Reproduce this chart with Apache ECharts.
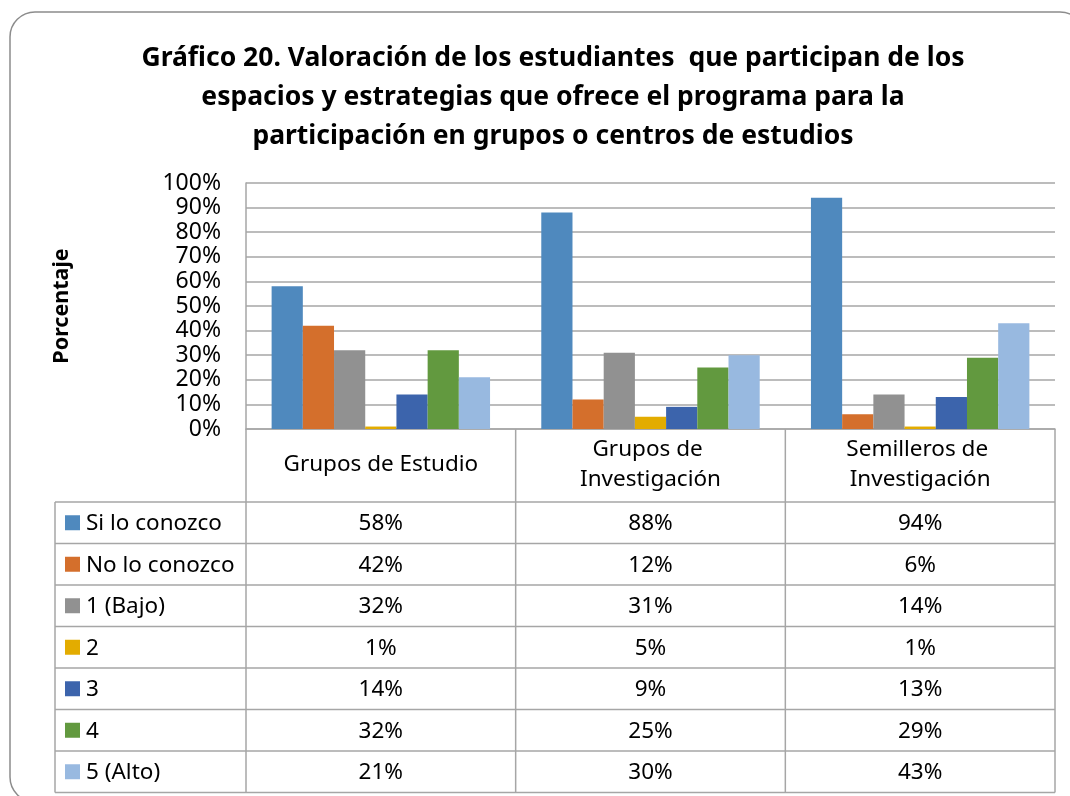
<!DOCTYPE html>
<html style="height: 100%">
<head>
    <meta charset="utf-8">
    <script src="https://cdn.jsdelivr.net/npm/echarts@6/dist/echarts.min.js"></script>
</head>
<body style="height: 100%; margin: 0; background: #fff">
<div id="container" style="width: 1070px; height: 796px"></div>
<script type="text/javascript">
    var categories = ['Grupos de Estudio', 'Grupos de Investigación', 'Semilleros de Investigación'];
    var seriesNames = ['Si lo conozco', 'No lo conozco', '1 (Bajo)', '2', '3', '4', '5 (Alto)'];
    var siLoConozco = [58, 88, 94];
    var noLoConozco = [42, 12, 6];
    var nivel1 = [32, 31, 14];
    var nivel2 = [1, 5, 1];
    var nivel3 = [14, 9, 13];
    var nivel4 = [32, 25, 29];
    var nivel5 = [21, 30, 43];
    var yTicks = [0, 10, 20, 30, 40, 50, 60, 70, 80, 90, 100];

    var colors = ['#4f89be', '#d46f2c', '#919191', '#e3ac00', '#3c64ac', '#62993f', '#98b9e0'];
    var allValues = [siLoConozco, noLoConozco, nivel1, nivel2, nivel3, nivel4, nivel5];

    var font = '"Noto Sans", "Open Sans", sans-serif';
    var lineColor = '#a6a6a6';
    var textSize = 22.5;

    // layout (px)
    var plotLeft = 246, plotRight = 1055, plotTop = 183, plotBottom = 429;
    var tableLeft = 55, headerBottom = 502, rowH = 41.5;
    var colW = (plotRight - plotLeft) / categories.length;

    var dom = document.getElementById('container');
    var myChart = echarts.init(dom);

    var graphics = [];
    // frame
    graphics.push({
        type: 'rect',
        shape: {x: 10, y: 12, width: 1075, height: 790, r: 25},
        style: {fill: null, stroke: '#8c8c8c', lineWidth: 1.5},
        z: 0
    });

    var tableBottom = headerBottom + rowH * seriesNames.length;
    function hline(x1, x2, y) {
        graphics.push({type: 'line', shape: {x1: x1, y1: y, x2: x2, y2: y},
            style: {stroke: lineColor, lineWidth: 1.5}, z: 5});
    }
    function vline(x, y1, y2) {
        graphics.push({type: 'line', shape: {x1: x, y1: y1, x2: x, y2: y2},
            style: {stroke: lineColor, lineWidth: 1.5}, z: 5});
    }
    // header row verticals
    for (var c = 0; c <= categories.length; c++) {
        vline(plotLeft + colW * c, plotBottom, tableBottom);
    }
    vline(tableLeft, headerBottom, tableBottom);
    for (var r = 0; r <= seriesNames.length; r++) {
        hline(tableLeft, plotRight, headerBottom + rowH * r);
    }
    // rows
    for (var i = 0; i < seriesNames.length; i++) {
        var cy = headerBottom + rowH * i + rowH / 2;
        graphics.push({type: 'rect', shape: {x: 65, y: cy - 7.5, width: 15, height: 15},
            style: {fill: colors[i]}, z: 6});
        graphics.push({type: 'text', x: 86, y: cy + 1, z: 6,
            style: {text: seriesNames[i], fontFamily: font, fontSize: textSize, fill: '#000',
                align: 'left', verticalAlign: 'middle'}});
        for (var j = 0; j < categories.length; j++) {
            graphics.push({type: 'text', x: plotLeft + colW * j + colW / 2, y: cy + 1, z: 6,
                style: {text: allValues[i][j] + '%', fontFamily: font, fontSize: textSize, fill: '#000',
                    align: 'center', verticalAlign: 'middle'}});
        }
    }

    var series = [];
    for (var k = 0; k < seriesNames.length; k++) {
        series.push({
            name: seriesNames[k],
            type: 'bar',
            data: allValues[k],
            barGap: '0%',
            barCategoryGap: '19%',
            itemStyle: {color: colors[k]}
        });
    }

    var option = {
        animation: false,
        title: {
            text: 'Gráfico 20. Valoración de los estudiantes  que participan de los\nespacios y estrategias que ofrece el programa para la\nparticipación en grupos o centros de estudios',
            left: 548,
            textAlign: 'center',
            top: 34,
            textStyle: {fontFamily: font, fontWeight: 'bold', fontSize: 26.5, lineHeight: 39, color: '#000'}
        },
        grid: {left: plotLeft, right: 1070 - plotRight, top: plotTop, bottom: 796 - plotBottom},
        xAxis: {
            type: 'category',
            data: categories,
            axisTick: {show: false},
            axisLine: {lineStyle: {color: lineColor, width: 1.5}},
            axisLabel: {
                interval: 0, margin: 36, verticalAlign: 'middle', width: 230, overflow: 'break',
                fontFamily: font, fontSize: textSize, lineHeight: 30, color: '#000'
            }
        },
        yAxis: {
            type: 'value',
            min: yTicks[0],
            max: yTicks[yTicks.length - 1],
            interval: 10,
            name: 'Porcentaje',
            nameLocation: 'middle',
            nameGap: 173,
            nameTextStyle: {fontFamily: font, fontWeight: 'bold', fontSize: 21.5, color: '#000'},
            axisLine: {show: true, lineStyle: {color: lineColor, width: 1.5}},
            axisTick: {show: false},
            splitLine: {lineStyle: {color: lineColor, width: 1.5}},
            axisLabel: {formatter: '{value}%', margin: 25, fontFamily: font, fontSize: 23, color: '#000'}
        },
        graphic: graphics,
        series: series
    };
    myChart.setOption(option);
</script>
</body>
</html>
